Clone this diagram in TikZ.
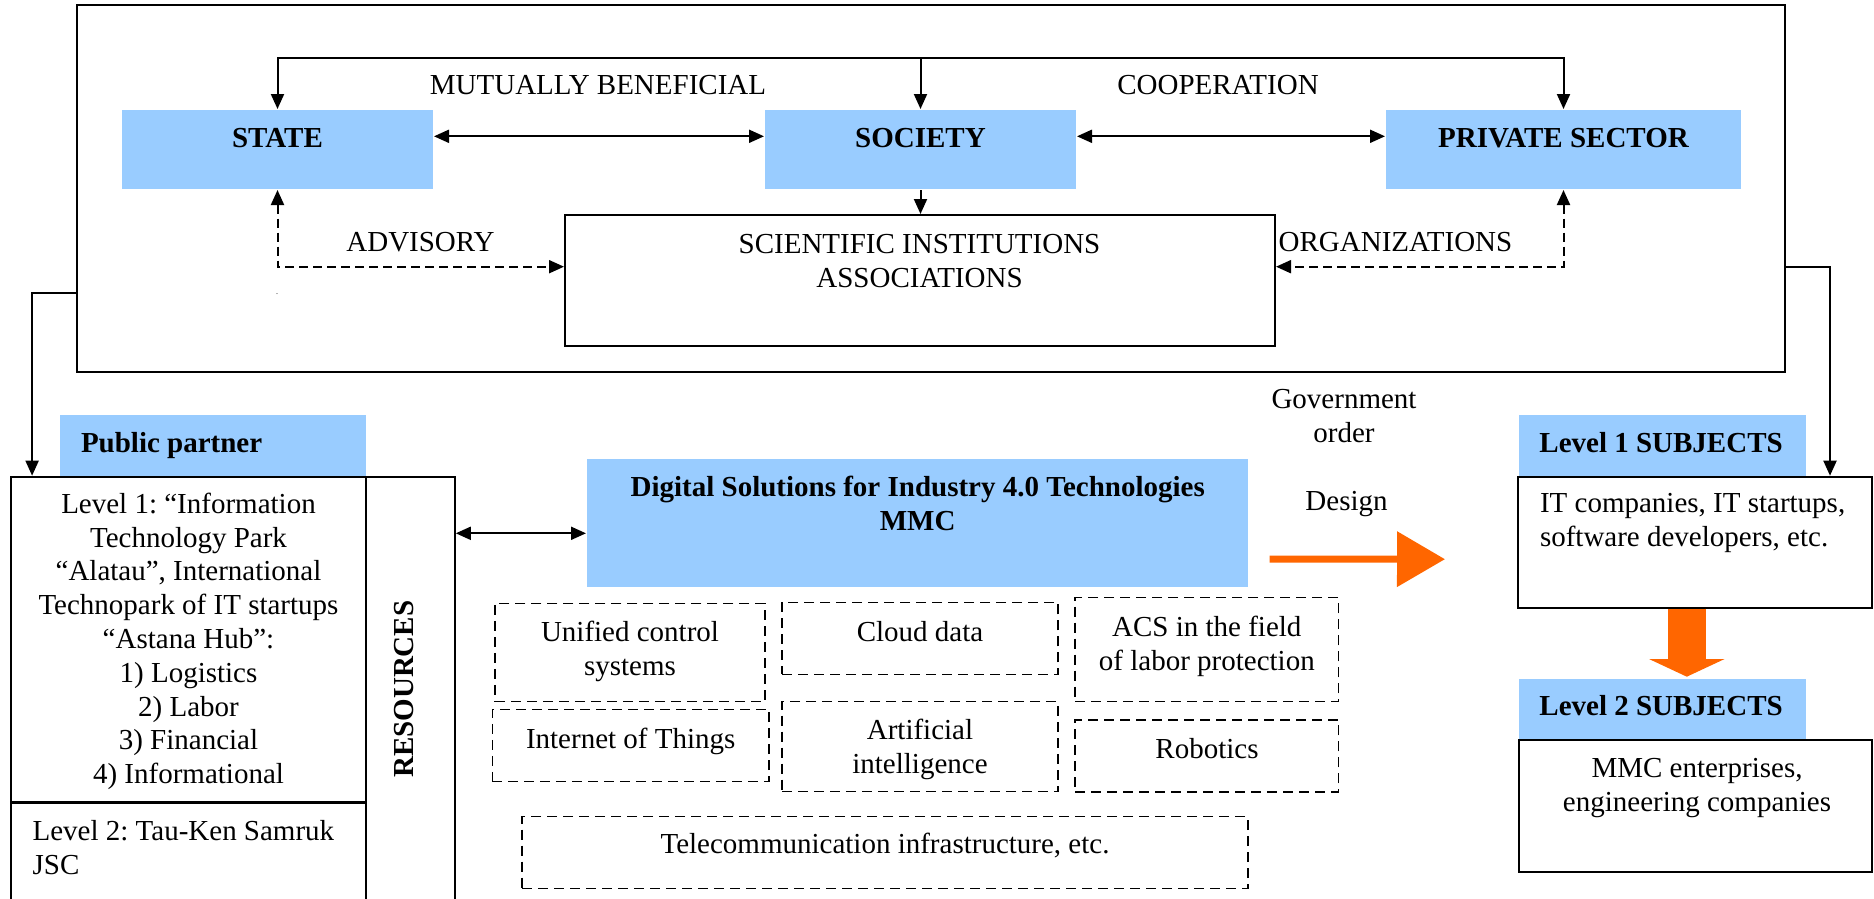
\documentclass[tikz,border=0pt]{standalone}
\usepackage{fontspec}
\setmainfont{Liberation Serif}
\usetikzlibrary{arrows.meta}
\definecolor{paleblue}{HTML}{99CCFF}
\definecolor{signalorange}{HTML}{FF6600}
\newcommand{\diagfont}{\fontsize{29}{33.8}\selectfont\frenchspacing}

\begin{document}
\begin{tikzpicture}[x=1pt, y=-1pt, font=\diagfont, line width=2pt,
  >={Triangle[length=15pt,width=13pt]},
  bluebox/.style={fill=paleblue, inner sep=0pt},
  plainbox/.style={draw, inner sep=0pt},
  techbox/.style={draw, line width=1.5pt, dash pattern=on 10pt off 6pt, inner sep=0pt},
  txt/.style={anchor=base, inner sep=0pt, align=center},
  head/.style={txt, font=\diagfont\bfseries},
  flowarrow/.style={draw=signalorange, line width=7pt, -{Triangle[length=48pt,width=54pt]}}]
\useasboundingbox (0,0) rectangle (1874,899);
\clip (0,0) rectangle (1874,899);

\node (frame) [plainbox, minimum width=1708, minimum height=367] at (931,188.5) {};
\node (state) [bluebox, minimum width=311, minimum height=79] at (277.5,149.5) {};
\node (society) [bluebox, minimum width=311, minimum height=79] at (920.5,149.5) {};
\node (private) [bluebox, minimum width=355, minimum height=79] at (1563.5,149.5) {};
\node (science) [plainbox, minimum width=710, minimum height=131] at (920,280.5) {};

\node (statetext) [head] at (277.5,147.7) {STATE};
\node (societytext) [head] at (920.5,147.7) {SOCIETY};
\node (privatetext) [head] at (1563.5,147.7) {PRIVATE SECTOR};
\node (mutual) [txt] at (598,94.3) {MUTUALLY BENEFICIAL};
\node (coop) [txt] at (1218,94.3) {COOPERATION};
\node (advisory) [txt] at (420.5,251) {ADVISORY};
\node (organiz) [txt] at (1395.5,251) {ORGANIZATIONS};
\node (sciencetext) [txt] at (919.5,287.3) {SCIENTIFIC INSTITUTIONS\\ASSOCIATIONS};
\node (stray) [txt, font=\fontsize{8}{8}\selectfont] at (277,294) {.};

\coordinate (top) at (920.5,57.7);
\draw[<->] (state.north) |- (top) -| (private.north);
\draw[->] (top) -- (society.north);
\draw[<->] ([yshift=13.2pt]state.east) -- ([yshift=13.2pt]society.west);
\draw[<->] ([yshift=13.2pt]society.east) -- ([yshift=13.2pt]private.west);
\draw[->] (society.south) -- (society.south |- science.north);
\draw[<->, dashed, dash pattern=on 9pt off 5pt] (state.south) |- ([yshift=13.8pt]science.west);
\draw[<->, dashed, dash pattern=on 9pt off 5pt] (private.south) |- ([yshift=13.8pt]science.east);

\node (partner) [bluebox, minimum width=306, minimum height=61.7] at (213,445.85) {};
\node (levelone) [plainbox, minimum width=355, minimum height=325.3] at (188.3,639.35) {};
\node (leveltwo) [plainbox, minimum width=355, minimum height=128] at (188.3,867) {};
\node (resources) [plainbox, minimum width=89, minimum height=454] at (410.3,703.7) {};
\node (digital) [bluebox, minimum width=661, minimum height=128] at (917.5,523) {};

\node (partnertext) [head, anchor=base west] at (80,452.7) {Public partner};
\node (levelonetext) [txt] at (188.5,783.7) {Level 1: “Information\\Technology Park\\“Alatau”, International\\Technopark of IT startups\\“Astana Hub”:\\1) Logistics\\2) Labor\\3) Financial\\4) Informational};
\node (leveltwotext) [txt, anchor=base west, align=left] at (31.6,874) {Level 2: Tau-Ken Samruk\\JSC};
\node (resourcestext) [head, anchor=center, rotate=90] at (404.3,689.2) {RESOURCES};
\node (digitaltext) [head] at (917.7,530.7) {Digital Solutions for Industry 4.0 Technologies\\MMC};

\node (unified) [techbox, minimum width=270, minimum height=98.4] at (630,652.5) {};
\node (cloud) [techbox, minimum width=276, minimum height=72] at (920,638.3) {};
\node (acs) [techbox, minimum width=263.6, minimum height=104] at (1206.8,649.7) {};
\node (iot) [techbox, minimum width=276.7, minimum height=72] at (630.7,745.3) {};
\node (ai) [techbox, minimum width=276, minimum height=90] at (920,746.7) {};
\node (robotics) [techbox, minimum width=263.6, minimum height=71.7] at (1206.8,755.9) {};
\node (telecom) [techbox, minimum width=725.7, minimum height=71.6] at (884.9,852.5) {};

\node (unifiedtext) [txt] at (630,675) {Unified control\\systems};
\node (cloudtext) [txt] at (920,641) {Cloud data};
\node (acstext) [txt] at (1206.8,670) {ACS in the field\\of labor protection};
\node (iottext) [txt] at (630.7,748.3) {Internet of Things};
\node (aitext) [txt] at (920,773.3) {Artificial\\intelligence};
\node (roboticstext) [txt] at (1207,758.3) {Robotics};
\node (telecomtext) [txt] at (885,853.3) {Telecommunication infrastructure, etc.};

\node (subjone) [bluebox, minimum width=287, minimum height=61.5] at (1662.5,445.75) {};
\node (itfirms) [plainbox, minimum width=354, minimum height=131] at (1695,542.2) {};
\node (subjtwo) [bluebox, minimum width=287, minimum height=61] at (1662.5,709.5) {};
\node (mmcfirms) [plainbox, minimum width=353, minimum height=131.7] at (1695.5,805.9) {};

\node (subjonetext) [head, anchor=base west] at (1538.4,452.7) {Level 1 SUBJECTS};
\node (itfirmstext) [txt, anchor=base west, align=left] at (1539,546.7) {IT companies, IT startups,\\software developers, etc.};
\node (subjtwotext) [head, anchor=base west] at (1538.4,715) {Level 2 SUBJECTS};
\node (mmcfirmstext) [txt] at (1697,811.7) {MMC enterprises,\\engineering companies};
\node (govorder) [txt] at (1344,442.3) {Government\\order};
\node (design) [txt] at (1346.5,510) {Design};

\draw[->] ([yshift=-104.8pt]frame.west) -| ([xshift=22.3pt]levelone.north west);
\draw[->] ([yshift=-78.2pt]frame.east) -| ([xshift=-43pt]itfirms.north east);
\coordinate (digin) at ([yshift=-10.3pt]digital.west);
\draw[<->] (resources.east |- digin) -- (digin);
\draw[flowarrow] ([xshift=20.5pt, yshift=-36pt]digital.east) -- ([xshift=-72pt, yshift=-17pt]itfirms.west);
\draw[draw=signalorange, line width=38pt, -{Triangle[length=17.7pt,width=75pt]}] ([xshift=-8.2pt]itfirms.south) -- ([xshift=-8.2pt, yshift=1.3pt]itfirms.south |- subjtwo.north);
\end{tikzpicture}
\end{document}
